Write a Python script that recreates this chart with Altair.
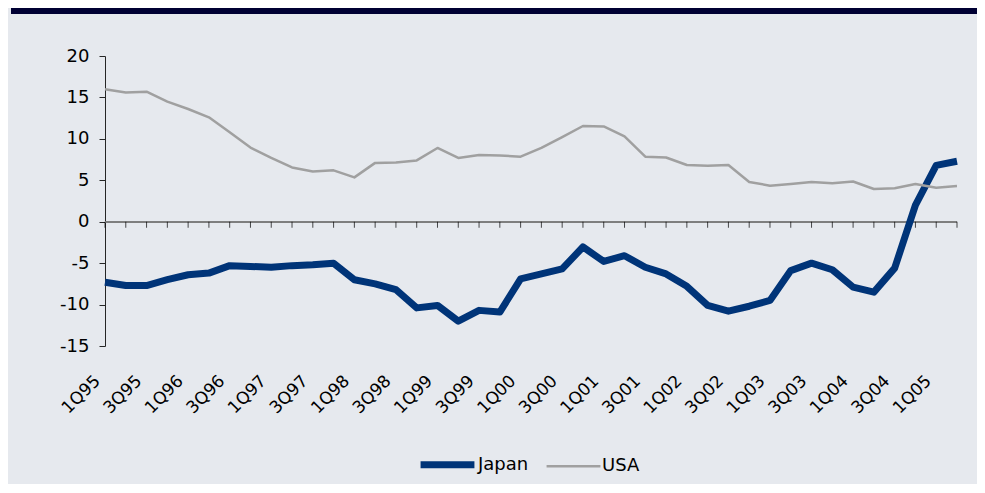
import altair as alt
import pandas as pd

quarters = [
    "1Q95", "2Q95", "3Q95", "4Q95", "1Q96", "2Q96", "3Q96", "4Q96",
    "1Q97", "2Q97", "3Q97", "4Q97", "1Q98", "2Q98", "3Q98", "4Q98",
    "1Q99", "2Q99", "3Q99", "4Q99", "1Q00", "2Q00", "3Q00", "4Q00",
    "1Q01", "2Q01", "3Q01", "4Q01", "1Q02", "2Q02", "3Q02", "4Q02",
    "1Q03", "2Q03", "3Q03", "4Q03", "1Q04", "2Q04", "3Q04", "4Q04",
    "1Q05", "2Q05",
]
label_quarters = [
    "1Q95", "3Q95", "1Q96", "3Q96", "1Q97", "3Q97", "1Q98", "3Q98",
    "1Q99", "3Q99", "1Q00", "3Q00", "1Q01", "3Q01", "1Q02", "3Q02",
    "1Q03", "3Q03", "1Q04", "3Q04", "1Q05",
]
japan = [
    -7.3, -7.7, -7.7, -7.0, -6.4, -6.2, -5.3, -5.4, -5.5, -5.3, -5.2, -5.0,
    -7.0, -7.5, -8.2, -10.4, -10.1, -12.0, -10.7, -10.9, -6.9, -6.3, -5.7, -3.05,
    -4.8, -4.1, -5.5, -6.3, -7.8, -10.1, -10.8, -10.2, -9.5, -5.9, -5.0, -5.8,
    -7.9, -8.5, -5.6, 2.0, 6.8, 7.3,
]
usa = [
    16.0, 15.6, 15.7, 14.5, 13.6, 12.6, 10.8, 8.95, 7.7, 6.55, 6.05, 6.2,
    5.35, 7.1, 7.15, 7.4, 8.9, 7.7, 8.05, 8.0, 7.85, 8.9, 10.2, 11.55,
    11.5, 10.3, 7.85, 7.75, 6.85, 6.75, 6.85, 4.8, 4.35, 4.55, 4.8, 4.65,
    4.85, 3.95, 4.05, 4.55, 4.1, 4.3,
]
series = ["Japan", "USA"]
series_colors = ["#003478", "#a0a0a0"]
series_widths = [7, 2.5]
y_ticks = [-15, -10, -5, 0, 5, 10, 15, 20]

FONT = "DejaVu Sans"
W, H = 852, 290
PAD = {"left": 97, "right": 20, "top": 48, "bottom": 138}

df_j = pd.DataFrame({"q": quarters, "v": japan, "s": "Japan"})
df_u = pd.DataFrame({"q": quarters, "v": usa, "s": "USA"})
df_q = pd.DataFrame({"q": quarters})

x_scale = alt.Scale(type="point", domain=quarters, padding=0)
y_scale = alt.Scale(domain=[-15, 20], nice=False, zero=False)
color_scale = alt.Scale(domain=series, range=series_colors)
width_scale = alt.Scale(domain=series, range=series_widths)

x_axis = alt.Axis(
    values=label_quarters, labelAngle=-45, labelAlign="right",
    labelBaseline="middle", labelPadding=32, labelOffset=-8,
    domain=False, ticks=False, grid=False, title=None,
    labelFont=FONT, labelFontSize=17, labelColor="#000000",
)
y_axis = alt.Axis(
    values=y_ticks, grid=False, title=None, tickSize=6, labelPadding=10,
    domainColor="#262626", tickColor="#262626", domainWidth=1,
    labelFont=FONT, labelFontSize=18, labelColor="#000000",
    labelExpr="datum.value < 0 ? '-' + abs(datum.value) : '' + datum.value",
)

legend = alt.Legend(
    title=None, orient="none", direction="horizontal",
    legendX=312, legendY=378, symbolType="stroke", symbolSize=2900,
    labelFont=FONT, labelFontSize=18, labelColor="#000000",
    columnPadding=12, labelOffset=0,
)

band = alt.Chart(alt.Data(values=[{}])).mark_rect(color="#000033").encode(
    x=alt.value(-94), x2=alt.value(W + PAD["right"]),
    y=alt.value(-PAD["top"]), y2=alt.value(-PAD["top"] + 6),
)

zero_rule = alt.Chart(df_q).mark_rule(color="#7f7f7f", strokeWidth=1.5).encode(
    y=alt.datum(0, scale=y_scale),
)

ticks = alt.Chart(df_q).mark_tick(
    orient="vertical", size=6, thickness=1, yOffset=3, color="#000000"
).encode(
    x=alt.X("q:N", scale=x_scale, axis=x_axis),
    y=alt.datum(0, scale=y_scale, axis=y_axis),
)


def line_layer(df):
    return alt.Chart(df).mark_line(strokeJoin="round", strokeCap="butt").encode(
        x=alt.X("q:N", scale=x_scale, axis=x_axis),
        y=alt.Y("v:Q", scale=y_scale, axis=y_axis),
        color=alt.Color("s:N", scale=color_scale, legend=legend),
        strokeWidth=alt.StrokeWidth("s:N", scale=width_scale, legend=legend),
    )


chart = alt.layer(
    band, zero_rule, ticks, line_layer(df_j), line_layer(df_u)
).properties(
    width=W, height=H,
    autosize=alt.AutoSizeParams(type="none"),
    padding=PAD,
    background="#e6e9ee",
).configure_view(stroke=None)

chart.save("out.html", embed_options={"renderer": "svg", "actions": False})
